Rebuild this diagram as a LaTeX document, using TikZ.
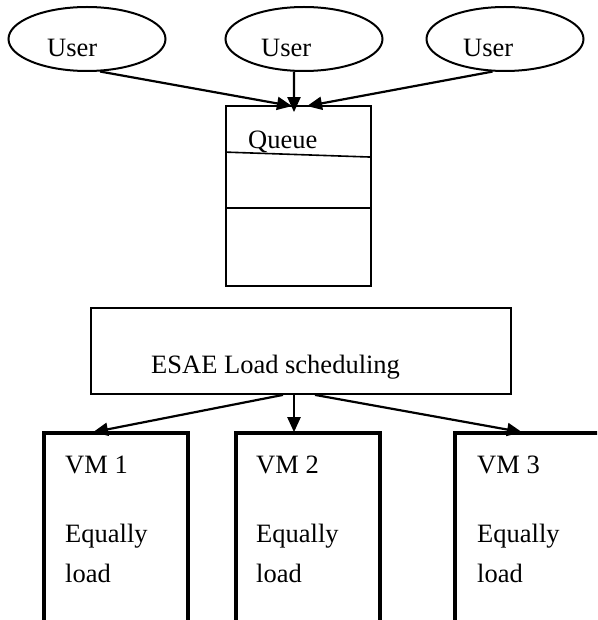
\documentclass[tikz,border=0pt]{standalone}
\usepackage{fontspec}
\setmainfont{Liberation Serif}
\usetikzlibrary{arrows.meta,shapes.geometric,calc}
\begin{document}
\begin{tikzpicture}[x=1pt,y=-1pt,
  txt/.style={font=\fontsize{26.5}{30}\selectfont, inner sep=0pt, anchor=base west},
  usr/.style={ellipse, draw, line width=2pt, minimum width=157pt, minimum height=64pt, inner sep=0pt},
  thinbox/.style={draw, line width=1.8pt, rectangle, inner sep=0pt},
  vmbox/.style={draw, line width=3.6pt, rectangle, inner sep=0pt, minimum height=200pt},
  arr/.style={line width=2.2pt, -{Triangle[length=15pt,width=13pt]}}
]
\useasboundingbox (0,0) rectangle (597,620);
\fill[white] (0,0) rectangle (597,620);
\clip (0,0) rectangle (597,620);

% users
\node[usr] (u1) at (87,39) {};
\node[usr] (u2) at (304,39) {};
\node[usr] (u3) at (505,39) {};
\node[txt] (u1t) at (47,57) {User};
\node[txt] (u2t) at (261,57) {User};
\node[txt] (u3t) at (463,57) {User};

% queue
\node[thinbox, minimum width=145pt, minimum height=180pt] (q) at (298.5,196) {};
\draw[line width=1.6pt] ($(q.north west)+(0,47)$) -- ($(q.north east)+(0,52)$);
\draw[line width=1.6pt] ($(q.north west)+(0,103)$) -- ($(q.north east)+(0,103)$);
\node[txt] (qt) at (248,149) {Queue};

\draw[arr] (u1.-68) -- ($(q.north)+(-6.5,1)$);
\draw[arr] (u2.-107) -- ($(q.north)+(-4.5,7)$);
\draw[arr] (u3.-111) -- ($(q.north)+(8.5,1)$);

% scheduler
\node[thinbox, minimum width=420pt, minimum height=86pt] (e) at (301,351) {};
\node[txt] (et) at (151,373) {ESAE Load scheduling};

% virtual machines
\node[vmbox, minimum width=144pt] (vm1) at (116,533) {};
\node[vmbox, minimum width=144pt] (vm2) at (308,533) {};
\node[vmbox, minimum width=200pt] (vm3) at (555,533) {};

\foreach \n/\x/\k in {a/65/1, b/256/2, c/477/3}{
  \node[txt] (vm\n) at (\x,473) {VM \k};
  \node[txt] (eq\n) at (\x,542) {Equally};
  \node[txt] (ld\n) at (\x,582) {load};
}

\draw[arr] ($(e.south)+(-18,0)$) -- ($(vm1.north)+(-23,1)$);
\draw[arr] ($(e.south)+(-7,0)$) -- ($(vm2.north)+(-14,1)$);
\draw[arr] ($(e.south)+(14,0)$) -- ($(vm3.north)+(-33,1)$);
\end{tikzpicture}
\end{document}
